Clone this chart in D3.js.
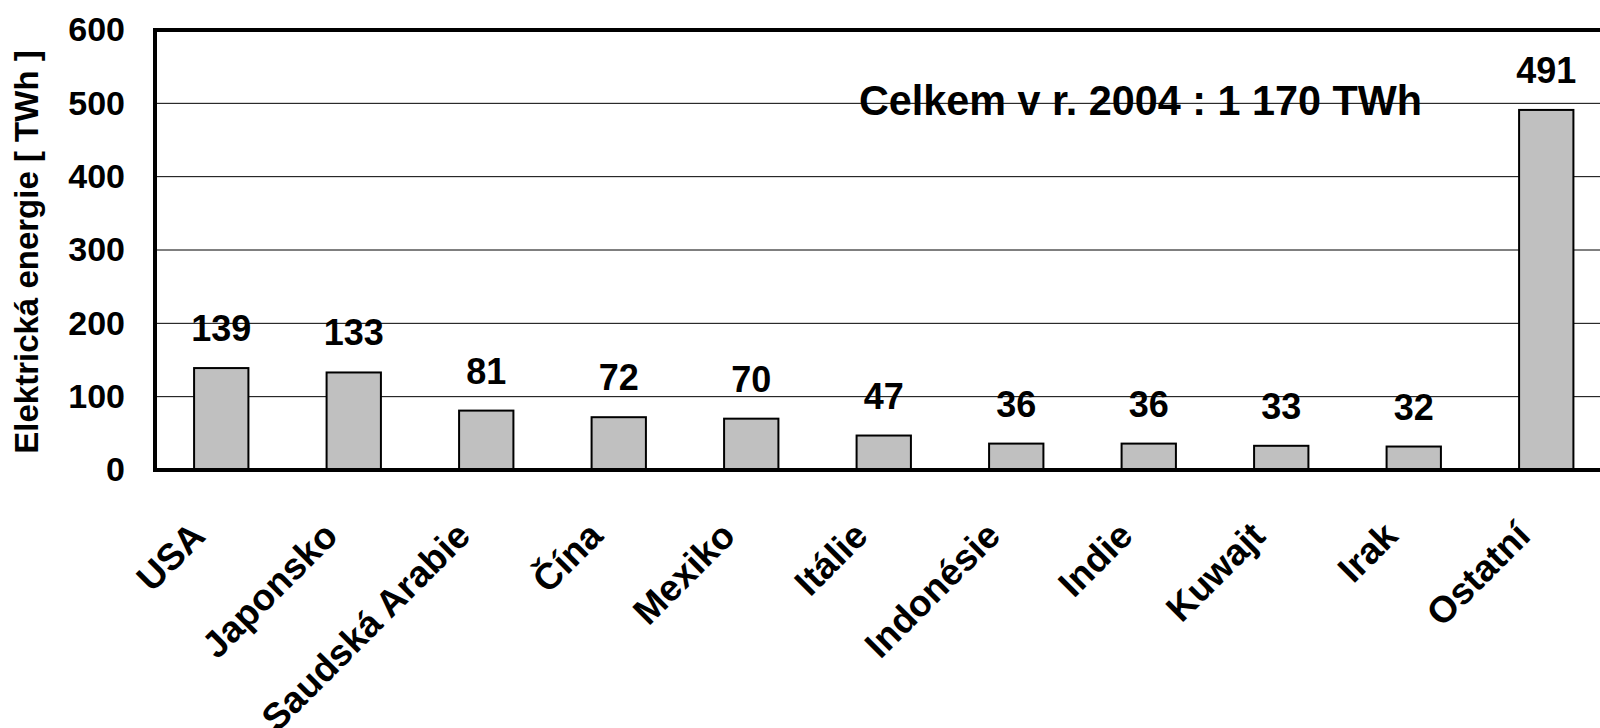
<!DOCTYPE html>
<html>
<head>
<meta charset="utf-8">
<script src="https://cdn.jsdelivr.net/npm/d3@7"></script>
<style>
  body { margin: 0; background: #fff; }
  svg { display: block; font-family: "Liberation Sans", Arial, sans-serif; font-weight: bold; }
</style>
</head>
<body>
<script>
var countries = ["USA", "Japonsko", "Saudská Arabie", "Čína", "Mexiko", "Itálie",
                 "Indonésie", "Indie", "Kuwajt", "Irak", "Ostatní"];
var values = [139, 133, 81, 72, 70, 47, 36, 36, 33, 32, 491];
var yTicks = [0, 100, 200, 300, 400, 500, 600];
var yTitle = "Elektrická energie [ TWh ]";
var note = "Celkem v r. 2004 : 1 170 TWh";

var width = 1600, height = 728;
var plotLeft = 155, plotTop = 30, plotRight = 1612.5, plotBottom = 470;

var svg = d3.select("body").append("svg")
    .attr("width", width)
    .attr("height", height);

var x = d3.scaleBand()
    .domain(countries)
    .range([plotLeft, plotRight])
    .paddingInner(0.59)
    .paddingOuter(0.295);

var y = d3.scaleLinear()
    .domain([0, 600])
    .range([plotBottom, plotTop]);

// grid lines
svg.append("g")
    .selectAll("line")
    .data(yTicks.filter(function(d) { return d > 0 && d < 600; }))
    .enter().append("line")
    .attr("x1", plotLeft).attr("x2", plotRight)
    .attr("y1", function(d) { return y(d); })
    .attr("y2", function(d) { return y(d); })
    .attr("stroke", "#000")
    .attr("stroke-width", 1);

// total note, sits over the 500 grid line
svg.append("text")
    .attr("x", 859)
    .attr("y", 115)
    .attr("font-size", 42)
    .attr("textLength", 563)
    .attr("lengthAdjust", "spacingAndGlyphs")
    .text(note);

// bars
svg.append("g")
    .selectAll("rect")
    .data(values)
    .enter().append("rect")
    .attr("x", function(d, i) { return x(countries[i]); })
    .attr("width", x.bandwidth())
    .attr("y", function(d) { return y(d); })
    .attr("height", function(d) { return y(0) - y(d); })
    .attr("fill", "#c0c0c0")
    .attr("stroke", "#000")
    .attr("stroke-width", 2);

// value labels
svg.append("g")
    .selectAll("text")
    .data(values)
    .enter().append("text")
    .attr("x", function(d, i) { return x(countries[i]) + x.bandwidth() / 2; })
    .attr("y", function(d) { return y(d) - 27; })
    .attr("text-anchor", "middle")
    .attr("font-size", 36)
    .text(function(d) { return d; });

// frame (left, top, bottom - right side is off the page)
svg.append("path")
    .attr("d", "M" + plotRight + "," + plotBottom + "H" + plotLeft + "V" + plotTop + "H" + plotRight)
    .attr("fill", "none")
    .attr("stroke", "#000")
    .attr("stroke-width", 4);

// y axis labels
var yAxis = d3.axisLeft(y).tickValues(yTicks).tickSize(0).tickPadding(30);
var gy = svg.append("g")
    .attr("transform", "translate(" + plotLeft + ",0)")
    .call(yAxis);
gy.select(".domain").remove();
gy.selectAll("text")
    .attr("font-size", 34)
    .attr("font-family", "Liberation Sans, Arial, sans-serif")
    .attr("font-weight", "bold")
    .attr("fill", "#000");

// x labels
svg.append("g")
    .selectAll("text")
    .data(countries)
    .enter().append("text")
    .attr("transform", function(d) {
        var cx = x(d) + x.bandwidth() / 2;
        return "translate(" + (cx - 14) + ",538) rotate(-45)";
    })
    .attr("text-anchor", "end")
    .attr("font-size", 37)
    .text(function(d) { return d; });

// y title
svg.append("text")
    .attr("transform", "translate(38,252) rotate(-90)")
    .attr("text-anchor", "middle")
    .attr("font-size", 33)
    .text(yTitle);
</script>
</body>
</html>
